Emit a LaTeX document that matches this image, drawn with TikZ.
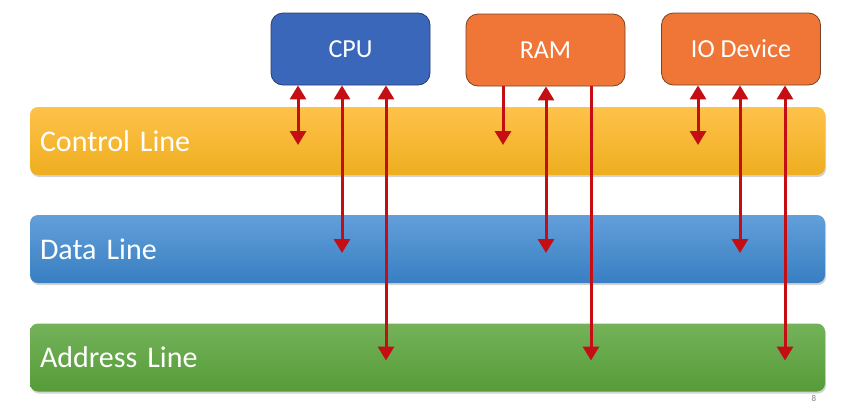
\documentclass[tikz,border=0pt]{standalone}
\usepackage{fontspec}
\setmainfont{Carlito}
\usetikzlibrary{positioning, arrows.meta, shadows}

\definecolor{cpublue}{RGB}{58,103,185}
\definecolor{cpuedge}{RGB}{40,62,110}
\definecolor{memorange}{RGB}{240,118,55}
\definecolor{memedge}{RGB}{120,66,36}
\definecolor{busred}{RGB}{196,14,20}

\tikzset{
    unit/.style = {draw, line width=0.8pt, rounded corners=12pt, minimum width=159pt, minimum height=72pt,
                   text=white, font=\fontsize{26}{30}\selectfont},
    busline/.style = {rounded corners=8pt, minimum height=68pt, text width=775pt, inner xsep=10pt,
                      align=left, text=white, font=\fontsize{30}{34}\selectfont,
                      drop shadow={shadow xshift=1pt, shadow yshift=-2pt, opacity=0.35}},
    link/.style = {busred, line width=3pt, arrows={-Triangle[width=16pt,length=14pt]}},
    duplex/.style = {link, arrows={Triangle[width=16pt,length=14pt]-Triangle[width=16pt,length=14pt]}}
}

\begin{document}
\begin{tikzpicture}[x=1pt, y=-1pt]
    \useasboundingbox (0,0) rectangle (852,410);

    % the three buses
    \node[busline, top color={rgb,255:red,255;green,194;blue,74}, bottom color={rgb,255:red,238;green,174;blue,32}] (ctrl) at (427.5,141) {Control Line};
    \node[busline, top color={rgb,255:red,98;green,160;blue,218}, bottom color={rgb,255:red,56;green,126;blue,194}] (data) at (427.5,249) {Data Line};
    \node[busline, top color={rgb,255:red,116;green,178;blue,90}, bottom color={rgb,255:red,86;green,156;blue,56}] (addr) at (427.5,357.5) {Address Line};

    % the units
    \node[unit, fill=cpublue, draw=cpuedge] (cpu) at (350.5,49) {CPU};
    \node[unit, fill=memorange, draw=memedge] (ram) at (545.5,50) {RAM};
    \node[unit, fill=memorange, draw=memedge] (io) at (741,49) {IO Device};

    \path (ctrl.center) ++(0,4) coordinate (ctrltip);
    \path (data.center) ++(0,4) coordinate (datatip);
    \path (addr.center) ++(0,3) coordinate (addrtip);

    % connections
    \foreach \src/\xx/\tip/\kind in {cpu/298/ctrltip/duplex, cpu/342/datatip/duplex, cpu/386/addrtip/duplex,
                                    ram/503/ctrltip/link, ram/546/datatip/duplex, ram/591/addrtip/link,
                                    io/698/ctrltip/duplex, io/740/datatip/duplex, io/785/addrtip/duplex}
        \draw[\kind] (\src.south -| \xx,0) -- (\xx,0 |- \tip);

    \node[text=gray, font=\fontsize{9}{10}\selectfont] (page) at (814,398) {8};
\end{tikzpicture}
\end{document}
